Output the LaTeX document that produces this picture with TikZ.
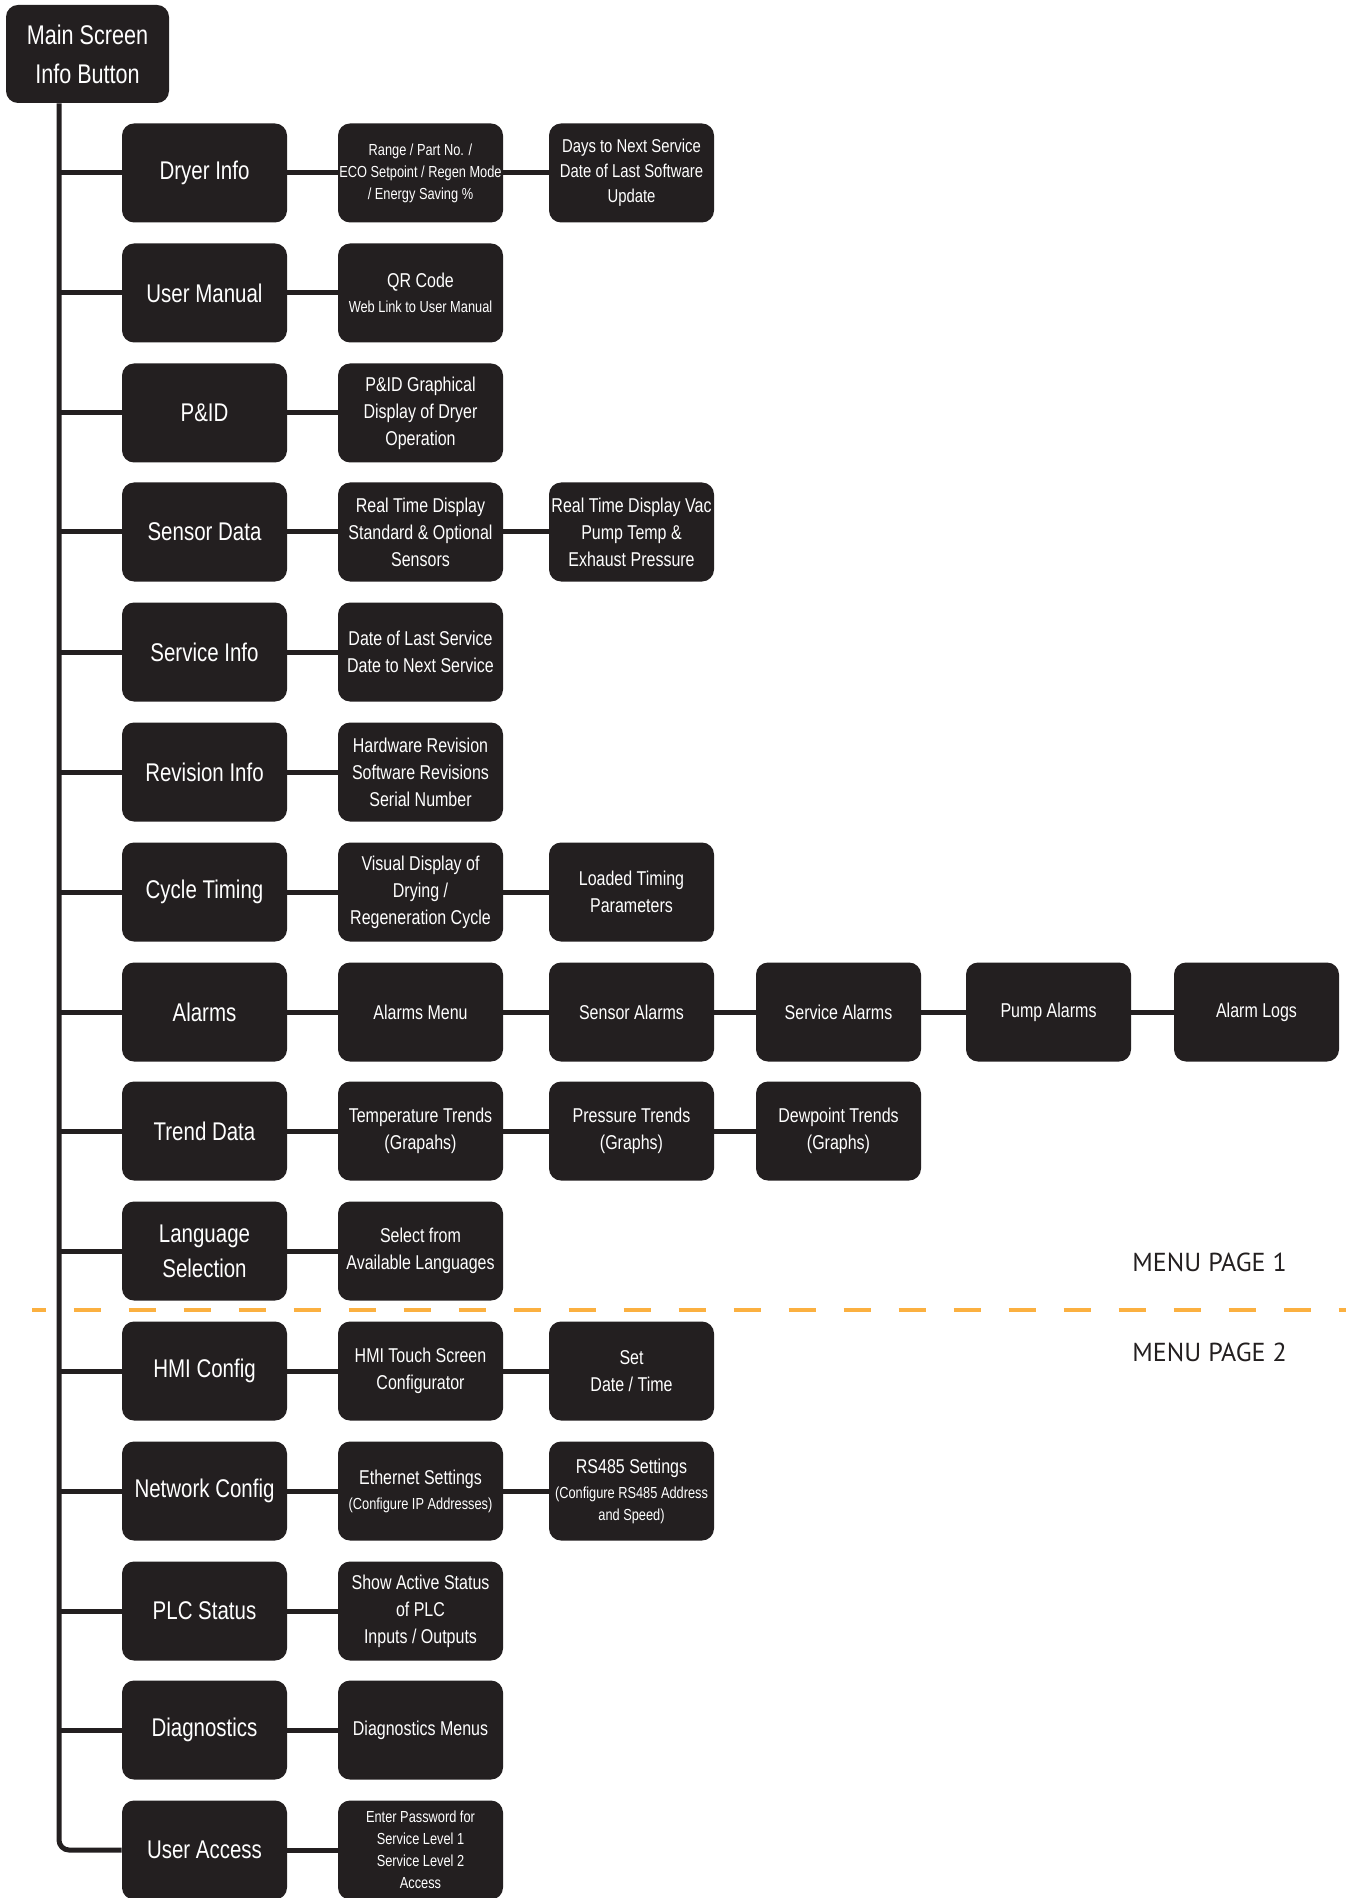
\documentclass[tikz,border=0pt]{standalone}
\usepackage{fontspec}
\newfontfamily\boxfont[FakeStretch=0.8]{Liberation Sans}
\newfontfamily\pagefont{PT Sans}
\usepackage{tikz}
\usepackage{xcolor}
\definecolor{boxblack}{HTML}{231F20}
\definecolor{pageorange}{HTML}{FBB040}
\newcommand{\smalltxt}{\fontsize{8}{11}\selectfont}
\newcommand{\bigtxt}{\fontsize{10}{13.5}\selectfont}

\begin{document}
\begin{tikzpicture}[x=0.5pt, y=-0.5pt,
		subbox/.style={fill=boxblack, text=white, rounded corners=6pt, minimum width=82.5pt, minimum height=49.5pt, inner sep=0pt, align=center, font=\boxfont\bigtxt},
		smallbox/.style={subbox, font=\boxfont\smalltxt},
		menubox/.style={subbox, font=\boxfont\fontsize{12.8}{17.5}\selectfont},
		mainbox/.style={subbox, minimum width=81.5pt, minimum height=49pt, font=\boxfont\fontsize{13.5}{19.5}\selectfont},
		link/.style={draw=boxblack, line width=2.5pt},
		pagelabel/.style={anchor=west, inner sep=0pt, text=boxblack, font=\pagefont\fontsize{13}{16}\selectfont}]
		\useasboundingbox (0,0) rectangle (1346,1898);

		\node[mainbox] (main) at (87.5,54) {Main Screen\\Info Button};

		\node[menubox] (dryer) at (204.5,173) {Dryer Info};
		\node[smallbox] (dryerA) at (420.5,173) {Range / Part No. /\\ECO Setpoint / Regen Mode\\/ Energy Saving \%};
		\node[subbox, font=\boxfont\fontsize{9.3}{12.5}\selectfont] (dryerB) at (631.5,173) {Days to Next Service\\Date of Last Software\\Update};

		\node[menubox] (manual) at (204.5,293) {User Manual};
		\node[smallbox] (manualA) at (420.5,293) {{\bigtxt QR Code}\\[1.5pt]Web Link to User Manual};

		\node[menubox] (pid) at (204.5,413) {P\&ID};
		\node[subbox] (pidA) at (420.5,413) {P\&ID Graphical\\Display of Dryer\\Operation};

		\node[menubox] (sensor) at (204.5,532) {Sensor Data};
		\node[subbox] (sensorA) at (420.5,532) {Real Time Display\\Standard \& Optional\\Sensors};
		\node[subbox] (sensorB) at (631.5,532) {Real Time Display Vac\\Pump Temp \&\\Exhaust Pressure};

		\node[menubox] (service) at (204.5,652) {Service Info};
		\node[subbox] (serviceA) at (420.5,652) {Date of Last Service\\Date to Next Service};

		\node[menubox] (revision) at (204.5,772) {Revision Info};
		\node[subbox] (revisionA) at (420.5,772) {Hardware Revision\\Software Revisions\\Serial Number};

		\node[menubox] (cycle) at (204.5,892) {Cycle Timing};
		\node[subbox] (cycleA) at (420.5,892) {Visual Display of\\Drying /\\Regeneration Cycle};
		\node[subbox] (cycleB) at (631.5,892) {Loaded Timing\\Parameters};

		\node[menubox] (alarms) at (204.5,1012) {Alarms};
		\node[subbox] (alarmsA) at (420.5,1012) {Alarms Menu};
		\node[subbox] (alarmsB) at (631.5,1012) {Sensor Alarms};
		\node[subbox] (alarmsC) at (838.5,1012) {Service Alarms};
		\node[subbox] (alarmsD) at (1048.5,1012) {Pump Alarms};
		\node[subbox] (alarmsE) at (1256.5,1012) {Alarm Logs};

		\node[menubox] (trend) at (204.5,1131) {Trend Data};
		\node[subbox] (trendA) at (420.5,1131) {Temperature Trends\\(Grapahs)};
		\node[subbox] (trendB) at (631.5,1131) {Pressure Trends\\(Graphs)};
		\node[subbox] (trendC) at (838.5,1131) {Dewpoint Trends\\(Graphs)};

		\node[menubox] (language) at (204.5,1251) {Language\\Selection};
		\node[subbox] (languageA) at (420.5,1251) {Select from\\Available Languages};

		\node[menubox] (hmi) at (204.5,1371) {HMI Config};
		\node[subbox] (hmiA) at (420.5,1371) {HMI Touch Screen\\Configurator};
		\node[subbox] (hmiB) at (631.5,1371) {Set\\Date / Time};

		\node[menubox] (network) at (204.5,1491) {Network Config};
		\node[smallbox] (networkA) at (420.5,1491) {{\bigtxt Ethernet Settings}\\[1.5pt](Configure IP Addresses)};
		\node[smallbox] (networkB) at (631.5,1491) {{\bigtxt RS485 Settings}\\[1.5pt](Configure RS485 Address\\and Speed)};

		\node[menubox] (plc) at (204.5,1611) {PLC Status};
		\node[subbox] (plcA) at (420.5,1611) {Show Active Status\\of PLC\\Inputs / Outputs};

		\node[menubox] (diag) at (204.5,1730) {Diagnostics};
		\node[subbox] (diagA) at (420.5,1730) {Diagnostics Menus};

		\node[menubox] (access) at (204.5,1850) {User Access};
		\node[smallbox] (accessA) at (420.5,1850) {Enter Password for\\Service Level 1\\Service Level 2\\Access};

		% page split
		\coordinate (splitL) at (32,1310);
		\coordinate (splitR) at (1346,1310);
		\draw[pageorange, line width=2pt, dash pattern=on 13.75pt off 13.75pt, dash phase=6.75pt] (splitL) -- (splitR);
		\node[pagelabel] (page1) at (1132,1262) {MENU PAGE 1};
		\node[pagelabel] (page2) at (1132,1352) {MENU PAGE 2};

		% trunk and branches
		\coordinate (trunk) at (59,103);
		\draw[link, rounded corners=5pt] (main.south -| trunk) |- (access.west);
		\draw[link] (dryer.west -| trunk) -- (dryer.west);
		\draw[link] (manual.west -| trunk) -- (manual.west);
		\draw[link] (pid.west -| trunk) -- (pid.west);
		\draw[link] (sensor.west -| trunk) -- (sensor.west);
		\draw[link] (service.west -| trunk) -- (service.west);
		\draw[link] (revision.west -| trunk) -- (revision.west);
		\draw[link] (cycle.west -| trunk) -- (cycle.west);
		\draw[link] (alarms.west -| trunk) -- (alarms.west);
		\draw[link] (trend.west -| trunk) -- (trend.west);
		\draw[link] (language.west -| trunk) -- (language.west);
		\draw[link] (hmi.west -| trunk) -- (hmi.west);
		\draw[link] (network.west -| trunk) -- (network.west);
		\draw[link] (plc.west -| trunk) -- (plc.west);
		\draw[link] (diag.west -| trunk) -- (diag.west);

		% sub menus
		\draw[link] (dryer) -- (dryerA) -- (dryerB);
		\draw[link] (manual) -- (manualA);
		\draw[link] (pid) -- (pidA);
		\draw[link] (sensor) -- (sensorA) -- (sensorB);
		\draw[link] (service) -- (serviceA);
		\draw[link] (revision) -- (revisionA);
		\draw[link] (cycle) -- (cycleA) -- (cycleB);
		\draw[link] (alarms) -- (alarmsA) -- (alarmsB) -- (alarmsC) -- (alarmsD) -- (alarmsE);
		\draw[link] (trend) -- (trendA) -- (trendB) -- (trendC);
		\draw[link] (language) -- (languageA);
		\draw[link] (hmi) -- (hmiA) -- (hmiB);
		\draw[link] (network) -- (networkA) -- (networkB);
		\draw[link] (plc) -- (plcA);
		\draw[link] (diag) -- (diagA);
		\draw[link] (access) -- (accessA);
	\end{tikzpicture}
\end{document}
